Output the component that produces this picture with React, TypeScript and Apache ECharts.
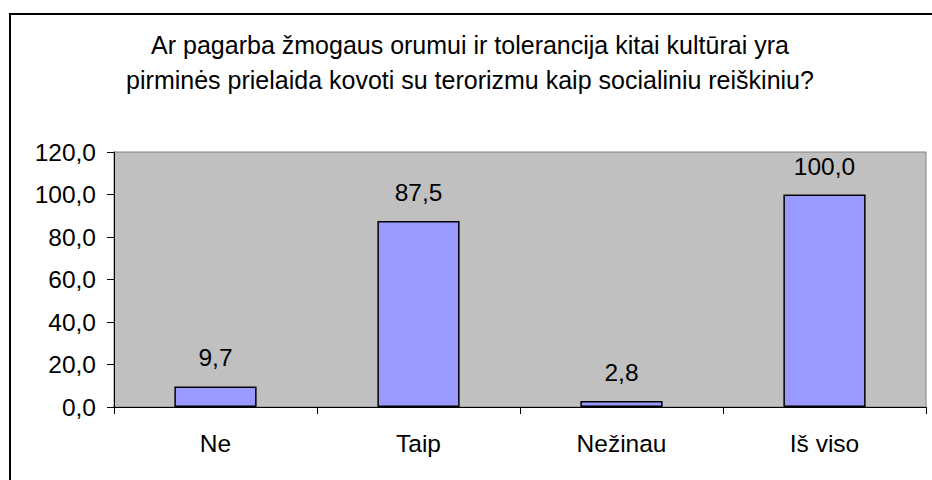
import React, { useEffect, useRef } from "react";
import * as echarts from "echarts";

const titleLines = [
  "Ar pagarba žmogaus orumui ir tolerancija kitai kultūrai yra",
  "pirminės prielaida kovoti su terorizmu kaip socialiniu reiškiniu?",
];
const categories = ["Ne", "Taip", "Nežinau", "Iš viso"];
const values = [9.7, 87.5, 2.8, 100.0];
const yMin = 0;
const yMax = 120;
const yStep = 20;

const fmt = (v: number) => v.toFixed(1).replace(".", ",");
const FONT = "'Liberation Sans', Arial, sans-serif";

export default function App() {
  const ref = useRef<HTMLDivElement>(null);
  useEffect(() => {
    if (!ref.current) return;
    const chart = echarts.init(ref.current, null, { renderer: "svg" });
    chart.setOption({
      animation: false,
      backgroundColor: "#ffffff",
      textStyle: { fontFamily: FONT },
      title: {
        text: titleLines.join("\n"),
        left: 465,
        top: 22,
        textAlign: "center",
        textStyle: {
          fontFamily: FONT,
          fontSize: 25,
          fontWeight: "normal",
          color: "#000",
          lineHeight: 35,
        },
      },
      graphic: [
        {
          type: "rect",
          shape: { x: 10, y: 14, width: 1200, height: 1000 },
          style: { fill: "none", stroke: "#000", lineWidth: 2 },
          silent: true,
        },
      ],
      grid: {
        left: 114,
        top: 152,
        right: 6,
        bottom: 73,
        show: true,
        backgroundColor: "#c0c0c0",
        borderColor: "#808080",
        borderWidth: 1,
      },
      xAxis: {
        type: "category",
        data: categories,
        boundaryGap: true,
        axisLine: { lineStyle: { color: "#000", width: 1 } },
        axisTick: { show: true, inside: false, length: 7, lineStyle: { color: "#000" } },
        axisLabel: { fontFamily: FONT, fontSize: 24.5, color: "#000", margin: 24 },
      },
      yAxis: {
        type: "value",
        min: yMin,
        max: yMax,
        interval: yStep,
        axisLine: { show: true, lineStyle: { color: "#000", width: 1 } },
        axisTick: { show: true, length: 7, lineStyle: { color: "#000" } },
        splitLine: { show: false },
        axisLabel: {
          fontFamily: FONT,
          fontSize: 24.5,
          color: "#000",
          margin: 18,
          formatter: (v: number) => fmt(v),
        },
      },
      series: [
        {
          type: "bar",
          data: values,
          barWidth: "40.5%",
          itemStyle: { color: "#9999ff", borderColor: "#000", borderWidth: 1.5 },
          label: {
            show: true,
            position: "top",
            distance: 16,
            fontFamily: FONT,
            fontSize: 24.5,
            color: "#000",
            formatter: (p: any) => fmt(p.value),
          },
        },
      ],
    });
    return () => chart.dispose();
  }, []);
  return (
    <div
      ref={ref}
      style={{ position: "fixed", left: 0, top: 0, width: 932, height: 480 }}
    />
  );
}
